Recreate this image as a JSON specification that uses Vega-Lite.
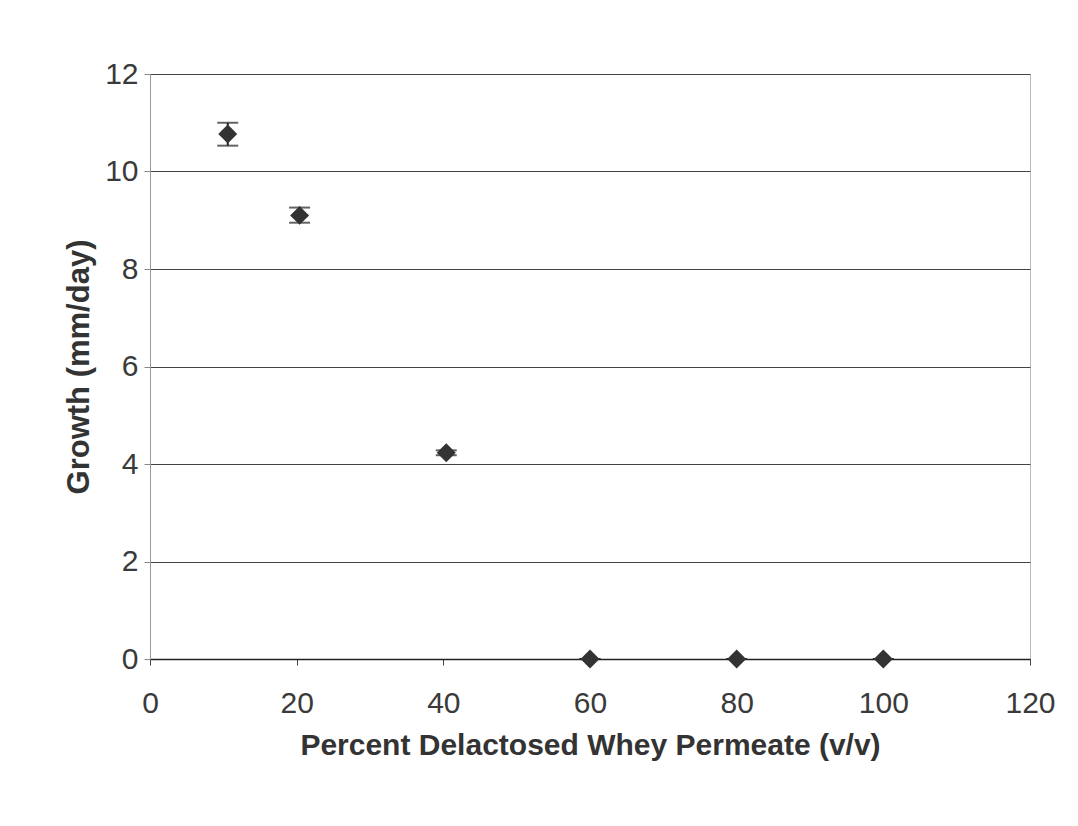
{
  "$schema": "https://vega.github.io/schema/vega-lite/v6.json",
  "width": 880,
  "height": 585,
  "autosize": {"type": "none"},
  "padding": {"left": 150, "top": 74, "right": 48, "bottom": 167},
  "background": "white",
  "config": {
    "view": {"stroke": "#bbbbbb", "strokeWidth": 1},
    "font": "Liberation Sans"
  },
  "data": {
    "values": [
      {"pct": 10.6, "growth": 10.77, "lo": 10.53, "hi": 11.0},
      {"pct": 20.4, "growth": 9.1, "lo": 8.95, "hi": 9.26},
      {"pct": 40.4, "growth": 4.23, "lo": 4.18, "hi": 4.28},
      {"pct": 60, "growth": 0, "lo": 0, "hi": 0},
      {"pct": 80, "growth": 0, "lo": 0, "hi": 0},
      {"pct": 100, "growth": 0, "lo": 0, "hi": 0}
    ]
  },
  "encoding": {
    "x": {
      "field": "pct",
      "type": "quantitative",
      "scale": {"domain": [0, 120], "nice": false, "zero": true},
      "axis": {
        "title": "Percent Delactosed Whey Permeate (v/v)",
        "values": [0, 20, 40, 60, 80, 100, 120],
        "grid": false,
        "labelFlush": false,
        "domainColor": "#222222",
        "domainWidth": 1.5,
        "tickColor": "#444444",
        "tickSize": 6,
        "labelFont": "Liberation Sans",
        "labelFontSize": 30,
        "labelColor": "#3a3a3a",
        "labelPadding": 23,
        "titleFont": "Liberation Sans",
        "titleFontSize": 30,
        "titleFontWeight": "bold",
        "titleColor": "#333333",
        "titlePadding": 12
      }
    }
  },
  "layer": [
    {
      "mark": {"type": "rule", "color": "#222222", "strokeWidth": 2},
      "encoding": {
        "y": {
          "field": "lo",
          "type": "quantitative",
          "scale": {"domain": [0, 12], "nice": false},
          "axis": {
            "title": "Growth (mm/day)",
            "values": [0, 2, 4, 6, 8, 10, 12],
            "grid": true,
            "labelFlush": false,
            "gridColor": "#444444",
            "gridWidth": 1,
            "domainColor": "#999999",
            "tickColor": "#888888",
            "tickSize": 6,
            "labelFont": "Liberation Sans",
            "labelFontSize": 30,
            "labelColor": "#3a3a3a",
            "labelPadding": 6,
            "titleFont": "Liberation Sans",
            "titleFontSize": 31,
            "titleFontWeight": "bold",
            "titleColor": "#333333",
            "titlePadding": 9
          }
        },
        "y2": {"field": "hi"}
      }
    },
    {
      "mark": {"type": "tick", "orient": "horizontal", "color": "#222222", "thickness": 2, "size": 21},
      "encoding": {"y": {"field": "lo", "type": "quantitative"}}
    },
    {
      "mark": {"type": "tick", "orient": "horizontal", "color": "#222222", "thickness": 2, "size": 21},
      "encoding": {"y": {"field": "hi", "type": "quantitative"}}
    },
    {
      "mark": {"type": "point", "shape": "diamond", "filled": true, "color": "#333333", "size": 360, "opacity": 1},
      "encoding": {"y": {"field": "growth", "type": "quantitative"}}
    }
  ]
}
